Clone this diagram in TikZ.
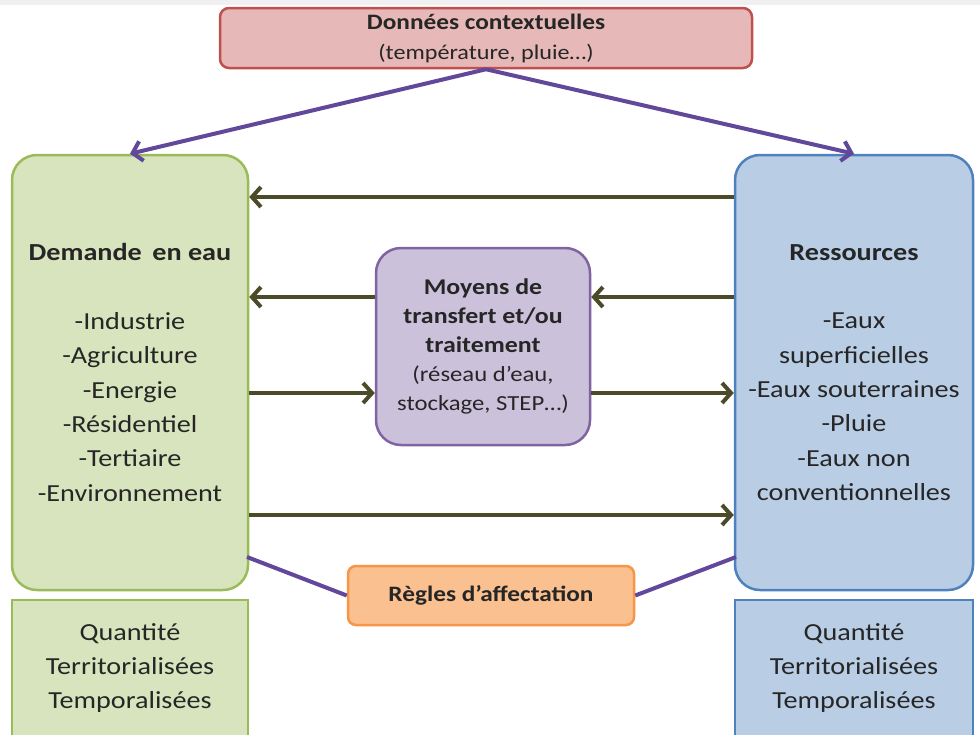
\documentclass[tikz,border=0pt]{standalone}
\usepackage{fontspec}
\setmainfont{Carlito}[FakeStretch=1.15]
\usetikzlibrary{arrows.meta}
\definecolor{gfill}{HTML}{D7E4BD}
\definecolor{gdraw}{HTML}{9BBB59}
\definecolor{bfill}{HTML}{B9CDE5}
\definecolor{bdraw}{HTML}{4F81BD}
\definecolor{pfill}{HTML}{CCC1DA}
\definecolor{pdraw}{HTML}{8064A2}
\definecolor{rfill}{HTML}{E6B8B7}
\definecolor{rdraw}{HTML}{C0504D}
\definecolor{ofill}{HTML}{FAC090}
\definecolor{odraw}{HTML}{F79646}
\definecolor{olive}{HTML}{4B4B2A}
\definecolor{violetline}{HTML}{62489A}
\definecolor{txt}{HTML}{262626}
\begin{document}
\begin{tikzpicture}[x=1pt,y=-1pt,
  box/.style={draw, line width=2.5pt, align=center, inner sep=0pt, text=txt},
  bigbox/.style={box, rounded corners=25pt, minimum width=236pt, minimum height=435pt,
    font=\fontsize{24.5}{34.3}\selectfont},
  basebox/.style={box, minimum width=236pt, minimum height=136pt,
    font=\fontsize{24.5}{34.3}\selectfont},
  flow/.style={draw=olive, line width=4pt, -{Straight Barb[length=9pt,width=20pt]}},
  ctx/.style={draw=violetline, line width=4pt, -{Straight Barb[length=9pt,width=20pt]}},
  link/.style={draw=violetline, line width=4pt}
]
\useasboundingbox (0,0) rectangle (980,734);
\fill[white] (0,0) rectangle (980,734);
\fill[black!6] (0,0) rectangle (980,5);

\node[box, fill=rfill, draw=rdraw, rounded corners=9pt, minimum width=532pt, minimum height=60pt,
  font=\fontsize{21}{30}\selectfont] (ctxnode) at (486,38)
  {{\fontsize{22}{30}\selectfont\bfseries Données contextuelles}\\(température, pluie…)};

\node[bigbox, fill=gfill, draw=gdraw] (Dem) at (130,372.5)
  {\textbf{Demande\, en eau}\\[34.3pt]-Industrie\\-Agriculture\\-Energie\\-Résidentiel\\-Tertiaire\\-Environnement};

\node[bigbox, fill=bfill, draw=bdraw, minimum width=238pt] (Res) at (854,372.5)
  {\textbf{Ressources}\\[34.3pt]-Eaux\\superficielles\\-Eaux souterraines\\-Pluie\\-Eaux non\\conventionnelles};

\node[box, fill=pfill, draw=pdraw, rounded corners=25pt, minimum width=214pt, minimum height=197pt,
  font=\fontsize{21.5}{29}\selectfont] (Moy) at (483,346.5)
  {{\fontsize{22.5}{29}\selectfont\bfseries Moyens de}\\{\fontsize{22.5}{29}\selectfont\bfseries transfert et/ou}\\{\fontsize{22.5}{29}\selectfont\bfseries traitement}\\(réseau d’eau,\\stockage, STEP…)};

\node[box, fill=ofill, draw=odraw, rounded corners=8pt, minimum width=286pt, minimum height=59pt,
  font=\fontsize{22}{29}\selectfont] (Reg) at (491,595.5) {\textbf{Règles d’affectation}};

\node[basebox, fill=gfill, draw=gdraw] (DemQ) at (130,668)
  {Quantité\\Territorialisées\\Temporalisées};
\node[basebox, fill=bfill, draw=bdraw, minimum width=238pt] (ResQ) at (854,668)
  {Quantité\\Territorialisées\\Temporalisées};

% context arrows
\draw[ctx] (ctxnode.south) -- (Dem.north);
\draw[ctx] (ctxnode.south) -- (Res.north);

% flows
\draw[flow] (Res.west |- 0,197) -- (Dem.east |- 0,197);
\draw[flow] (Moy.west |- 0,297) -- (Dem.east |- 0,297);
\draw[flow] (Res.west |- 0,297) -- (Moy.east |- 0,297);
\draw[flow] (Dem.east |- 0,393) -- (Moy.west |- 0,393);
\draw[flow] (Moy.east |- 0,393) -- (Res.west |- 0,393);
\draw[flow] (Dem.east |- 0,515) -- (Res.west |- 0,515);

% allocation links
\coordinate (dl) at (247,557);
\coordinate (rl) at (736,557);
\draw[link] (dl) -- (Reg.west);
\draw[link] (Reg.east) -- (rl);
\end{tikzpicture}
\end{document}
